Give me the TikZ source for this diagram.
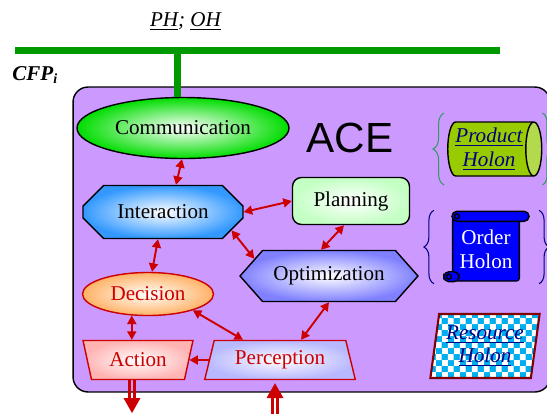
\documentclass[tikz,border=0pt]{standalone}
\usepackage{fontspec}
\setmainfont{Liberation Serif}
\newfontfamily\acefont{Liberation Sans}
\usetikzlibrary{shapes.geometric,shapes.misc,shapes.symbols}
\usetikzlibrary{arrows.meta}
\usetikzlibrary{decorations.pathreplacing}
\usetikzlibrary{patterns}

\definecolor{acepurple}{HTML}{CC99FF}
\definecolor{busgreen}{HTML}{009900}
\definecolor{commgreen}{HTML}{00DD00}
\definecolor{intblue}{HTML}{3399FF}
\definecolor{plangreen}{HTML}{C4FFC4}
\definecolor{optblue}{HTML}{8080FF}
\definecolor{decorange}{HTML}{FFB266}
\definecolor{actpink}{HTML}{FFB3B3}
\definecolor{percblue}{HTML}{B8B8FF}
\definecolor{arrowred}{HTML}{CC0000}
\definecolor{prodgreen}{HTML}{99CC00}
\definecolor{prodend}{HTML}{B3D94D}
\definecolor{holonnavy}{HTML}{000080}
\definecolor{prodbrace}{HTML}{339966}
\definecolor{resred}{HTML}{800000}

\pgfdeclarepatternformonly{bigchecker}{\pgfpointorigin}{\pgfqpoint{7pt}{7pt}}{\pgfqpoint{7pt}{7pt}}{%
  \pgfpathrectangle{\pgfpointorigin}{\pgfqpoint{3.5pt}{3.5pt}}%
  \pgfpathrectangle{\pgfqpoint{3.5pt}{3.5pt}}{\pgfqpoint{3.5pt}{3.5pt}}%
  \pgfusepath{fill}}

\tikzset{agent/.style={draw, thick, shading=radial, inner color=white, align=center}}
\tikzset{redagent/.style={agent, draw=arrowred, text=arrowred}}
\tikzset{holon/.style={align=center, text=holonnavy, font=\itshape}}
\tikzset{biptr/.style={{Triangle[length=0.17cm,width=0.18cm]}-{Triangle[length=0.17cm,width=0.18cm]}, draw=arrowred, line width=1.1pt}}
\tikzset{ptr/.style={-{Triangle[length=0.17cm,width=0.18cm]}, draw=arrowred, line width=1.1pt}}
\tikzset{dblline/.style={draw=arrowred, line width=1.2pt}}
\tikzset{bus/.style={draw=busgreen, line width=0.14cm}}
\tikzset{holonbrace/.style={decorate, line width=0.6pt}}

\begin{document}
\fontsize{12}{13.5}\selectfont
\begin{tikzpicture}[x=0.02cm, y=-0.02cm]

  \useasboundingbox (0,0) rectangle (547,414);

  % agent box
  \node [draw, thick, fill=acepurple, rounded corners=0.3cm, minimum width=9.54cm, minimum height=6.1cm] (ace) at (311.5,239.5) {};
  \node (acelbl) at (350,138) {\acefont\fontsize{24}{28}\selectfont ACE};

  % bus
  \node [anchor=base] (ohph) at (185.5,26.5) {\textit{\underline{PH}; \underline{OH}}};
  \node [anchor=base west, inner sep=0pt] (cfp) at (12,80) {\textbf{\textit{CFP\textsubscript{i}}}};
  \coordinate (busL) at (15,50);
  \coordinate (busR) at (500,50);
  \draw [bus] (busL) -- (busR);

  % modules
  \node [agent, ellipse, outer color=commgreen, minimum width=4cm, minimum height=1.22cm] (comm) at (183,128) {Communication};
  \draw [bus] ([xshift=-0.12cm]comm.north |- busL) -- ([xshift=-0.12cm]comm.north);
  \node [agent, chamfered rectangle, chamfered rectangle xsep=0.3cm, outer color=intblue, minimum width=3.2cm, minimum height=1.06cm] (inter) at (163,212) {Interaction};
  \node [agent, rounded corners=0.18cm, outer color=plangreen, minimum width=2.34cm, minimum height=0.94cm] (plan) at (351,201) {Planning};
  \node [agent, signal, signal to=west and east, signal pointer angle=97, outer color=optblue, minimum width=3.56cm, minimum height=1.02cm] (opt) at (329,276) {Optimization};
  \node [redagent, ellipse, outer color=decorange, minimum width=2.62cm, minimum height=0.86cm] (dec) at (148,294) {Decision};
  \node [redagent, trapezium, trapezium angle=103, trapezium stretches=true, outer color=actpink, minimum width=2.2cm, minimum height=0.78cm] (act) at (138,360) {Action};
  \node [redagent, trapezium, trapezium angle=77, trapezium stretches=true, outer color=percblue, minimum width=3.02cm, minimum height=0.78cm] (perc) at (280,360) {Perception};

  % holons
  \node [holon, cylinder, draw, thick, shape aspect=0.35, inner sep=1pt, cylinder uses custom fill, cylinder body fill=prodgreen, cylinder end fill=prodend, minimum width=1.08cm, minimum height=1.88cm] (prod) at (489,149) {\underline{Product}\\\underline{Holon}};
  \draw [holonbrace, draw=prodbrace, decoration={brace, amplitude=0.22cm}] ([xshift=-0.06cm,yshift=-0.72cm]prod.west) -- ([xshift=-0.06cm,yshift=0.72cm]prod.west);
  \draw [holonbrace, draw=prodbrace, decoration={brace, amplitude=0.18cm}] ([yshift=0.72cm]prod.east) -- ([yshift=-0.72cm]prod.east);

  \node [draw, thick, fill=blue, text=white, align=center, rounded corners=0.06cm, minimum width=1.24cm, minimum height=1.28cm] (ord) at (486,249) {Order\\Holon};
  \draw [thick, fill=blue, rounded corners=0.1cm] ([yshift=0.1cm]ord.north west) rectangle ([xshift=0.18cm,yshift=-0.1cm]ord.north east);
  \draw [thick, fill=blue] ([xshift=0.1cm]ord.north west) circle (0.05cm);
  \draw [thick, fill=blue, rounded corners=0.1cm] ([xshift=-0.16cm,yshift=0.2cm]ord.south west) rectangle ([xshift=0.14cm]ord.south west);
  \draw [thick, fill=blue] ([xshift=-0.06cm,yshift=0.1cm]ord.south west) circle (0.05cm);
  \draw [holonbrace, draw=holonnavy, decoration={brace, amplitude=0.2cm}] ([xshift=-0.36cm,yshift=-0.04cm]ord.south west) -- ([xshift=-0.36cm,yshift=0.12cm]ord.north west);
  \draw [holonbrace, draw=holonnavy, decoration={brace, amplitude=0.2cm}] ([xshift=0.38cm,yshift=0.12cm]ord.north east) -- ([xshift=0.38cm,yshift=-0.04cm]ord.south east);

  \node [holon, trapezium, trapezium left angle=81, trapezium right angle=99, trapezium stretches=true, draw=resred, line width=1.2pt, preaction={fill=cyan}, pattern=bigchecker, pattern color=white, minimum width=2.12cm, minimum height=1.28cm] (res) at (485,346) {\underline{Resource}\\\underline{Holon}};

  % links
  \draw [biptr] ([xshift=-0.02cm]comm.south) -- ([xshift=0.26cm]inter.north);
  \draw [biptr] (inter.east) -- (plan.west);
  \draw [biptr] (inter.-15) -- (opt.167);
  \draw [biptr] ([xshift=-0.14cm]plan.south) -- ([xshift=-0.16cm]opt.north);
  \draw [biptr] ([xshift=-0.1cm]inter.south) -- ([xshift=0.08cm]dec.north);
  \draw [biptr] (dec.-127) -- (act.north -| dec.-127);
  \draw [biptr] (dec.-20) -- ([xshift=-0.74cm]perc.north);
  \draw [biptr] (opt.south) -- ([xshift=0.42cm]perc.north);
  \draw [ptr] (perc.west) -- (act.east);

  % output and input
  \coordinate (actout) at (132,398);
  \draw [dblline] ([xshift=-0.05cm]act.south -| actout) -- ([xshift=-0.05cm]actout);
  \draw [dblline] ([xshift=0.05cm]act.south -| actout) -- ([xshift=0.05cm]actout);
  \fill [arrowred] ([xshift=-0.17cm]actout) -- ([xshift=0.17cm]actout) -- ([yshift=-0.3cm]actout) -- cycle;

  \coordinate (percin) at (275,414);
  \coordinate (percbase) at (275,398);
  \draw [dblline] ([xshift=-0.05cm]percin) -- ([xshift=-0.05cm]percbase);
  \draw [dblline] ([xshift=0.05cm]percin) -- ([xshift=0.05cm]percbase);
  \fill [arrowred] ([xshift=-0.17cm]percbase) -- ([xshift=0.17cm]percbase) -- ([yshift=-0.06cm]perc.south -| percbase) -- cycle;

\end{tikzpicture}
\end{document}
